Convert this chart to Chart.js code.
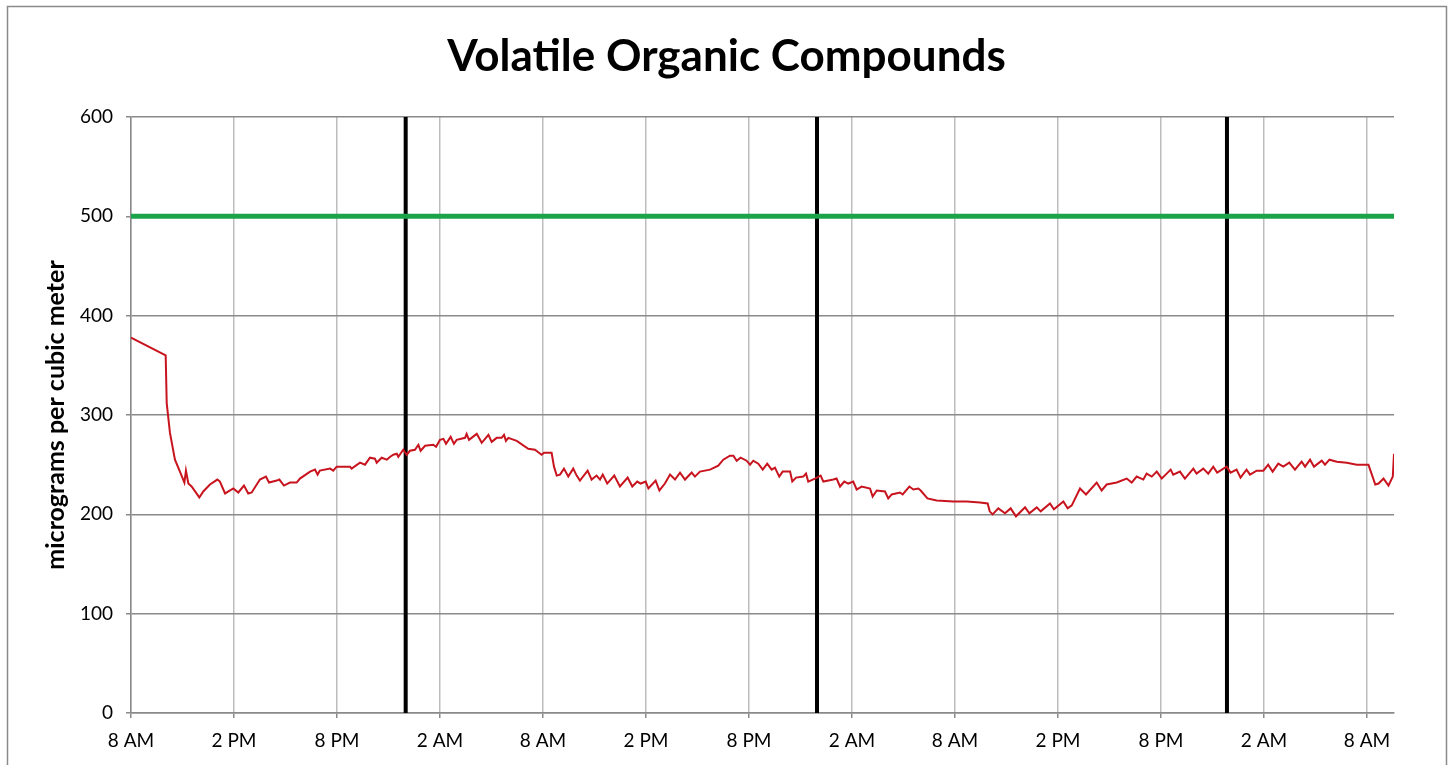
<!DOCTYPE html>
<html>
<head>
<meta charset="utf-8">
<title>Volatile Organic Compounds</title>
<script src="https://cdn.jsdelivr.net/npm/chart.js@4.4.1/dist/chart.umd.min.js"></script>
<style>
    html, body { margin: 0; padding: 0; background: #fff; }
</style>
</head>
<body>
<canvas id="vocChart" width="1453" height="765"></canvas>
<script>
// hours since 8 AM on the first day
const hours = [
    0, 2.02, 2.08, 2.27, 2.56, 2.85, 3.11, 3.2, 3.34, 3.53, 3.98, 4.21, 4.6, 5.03, 5.18, 5.48,
    5.96, 6.25, 6.58, 6.83, 7.03, 7.51, 7.86, 8.04, 8.49, 8.64, 8.91, 9.26, 9.65, 9.84, 10.43,
    10.72, 10.87, 11.0, 11.6, 11.78, 11.98, 12.76, 12.85, 13.34, 13.63, 13.92, 14.21, 14.31,
    14.6, 14.9, 15.1, 15.28, 15.48, 15.57, 15.86, 16.06, 16.25, 16.54, 16.74, 16.87, 17.13,
    17.61, 17.77, 18.0, 18.2, 18.35, 18.62, 18.81, 18.97, 19.46, 19.55, 19.69, 20.14, 20.43,
    20.82, 21.01, 21.3, 21.59, 21.73, 21.84, 21.98, 22.47, 23.14, 23.53, 23.92, 24.06, 24.5,
    24.64, 24.8, 24.99, 25.22, 25.47, 25.76, 25.96, 26.15, 26.6, 26.83, 27.12, 27.32, 27.48,
    27.74, 28.15, 28.48, 28.93, 29.2, 29.49, 29.69, 29.98, 30.14, 30.56, 30.78, 31.1, 31.4,
    31.69, 31.98, 32.27, 32.66, 32.85, 33.14, 33.73, 34.21, 34.5, 34.89, 35.09, 35.28, 35.51,
    35.86, 36.06, 36.25, 36.54, 36.8, 37.06, 37.32, 37.51, 37.76, 37.96, 38.39, 38.52, 38.74,
    39.16, 39.32, 39.45, 39.84, 40.17, 40.33, 40.91, 41.1, 41.3, 41.55, 41.78, 42.07, 42.27,
    42.56, 43.05, 43.2, 43.44, 43.92, 44.11, 44.31, 44.79, 44.95, 45.34, 45.57, 45.86, 46.0,
    46.39, 46.93, 47.9, 48.68, 49.45, 49.9, 50.02, 50.19, 50.52, 50.91, 51.24, 51.55, 52.08,
    52.33, 52.76, 52.99, 53.53, 53.76, 54.31, 54.56, 54.8, 55.28, 55.63, 56.25, 56.54, 56.83,
    57.42, 58.0, 58.29, 58.58, 58.97, 59.16, 59.46, 59.75, 60.04, 60.33, 60.56, 60.71, 61.1,
    61.39, 61.88, 62.07, 62.46, 62.75, 63.04, 63.27, 63.82, 64.05, 64.4, 64.63, 64.98, 65.18,
    65.57, 65.96, 66.24, 66.5, 66.83, 67.12, 67.47, 67.8, 68.19, 68.39, 68.68, 68.91, 69.36,
    69.55, 69.81, 70.24, 70.82, 71.4, 72.08, 72.18, 72.48, 72.67, 72.96, 73.25, 73.5, 73.57
];

// micrograms per cubic meter
const vocValues = [
    378, 360, 312, 282, 255, 243, 232, 244, 231, 228, 217, 223, 230, 235, 233, 221,
    226, 222, 229, 221, 222, 235, 238, 232, 234, 235, 229, 232, 232, 236, 243,
    245, 240, 244, 246, 244, 248, 248, 246, 252, 250, 257, 256, 252,
    257, 255, 258, 260, 261, 258, 265, 260, 264, 265, 270, 264, 269,
    270, 268, 275, 276, 271, 278, 271, 275, 277, 281, 275, 281, 272,
    280, 273, 277, 277, 280, 274, 277, 274, 266, 265, 260, 262, 262,
    248, 239, 240, 246, 238, 246, 239, 234, 244, 235, 239, 235, 240,
    231, 239, 228, 237, 228, 233, 231, 233, 226, 234, 224, 231, 240,
    235, 242, 235, 242, 238, 243, 245, 249, 255, 259, 259, 254, 257,
    254, 250, 254, 251, 245, 251, 245, 247, 238, 243, 243, 233, 237,
    238, 241, 233, 236, 239, 233, 235, 236, 228, 233, 231, 233, 225,
    228, 226, 218, 224, 223, 216, 220, 222, 220, 228, 225, 226, 224,
    216, 214, 213, 213, 212, 211, 203, 200, 206, 201, 206, 198, 207,
    201, 207, 203, 211, 205, 213, 206, 209, 226, 220, 232, 224, 230,
    232, 236, 232, 238, 235, 241, 238, 243, 236, 241, 245, 240, 243,
    236, 246, 241, 246, 241, 248, 242, 248, 242, 245, 237, 245, 240,
    244, 244, 250, 243, 251, 248, 252, 245, 253, 248, 255, 248, 254,
    250, 255, 253, 252, 250, 250, 245, 230, 231, 236, 229, 238, 261
];

const xTickLabels = ['8 AM', '2 PM', '8 PM', '2 AM', '8 AM', '2 PM', '8 PM',
    '2 AM', '8 AM', '2 PM', '8 PM', '2 AM', '8 AM'];
const midnightHours = [16.0, 39.96, 63.84];
const limitLevel = 500;
const lastHour = 73.57;

const chartTitle = 'Volatile Organic Compounds';
const yAxisTitle = 'micrograms per cubic meter';

Chart.defaults.font.family = 'Lato, "Open Sans", sans-serif';
Chart.defaults.color = '#000';

// outer frame + centered title, Excel style
const frameAndTitle = {
    id: 'frameAndTitle',
    beforeDraw(chart) {
        const ctx = chart.ctx;
        ctx.save();
        ctx.strokeStyle = '#8a8a8a';
        ctx.lineWidth = 1.5;
        ctx.strokeRect(7.5, 6.5, 1439, 820);
        ctx.restore();
    },
    afterDraw(chart) {
        const ctx = chart.ctx;
        ctx.save();
        ctx.font = 'bold 44px Lato, "Open Sans", sans-serif';
        ctx.fillStyle = '#000';
        ctx.textAlign = 'center';
        ctx.textBaseline = 'alphabetic';
        ctx.fillText(chartTitle, 726.5, 71);
        ctx.restore();
    }
};

const vocPoints = hours.map((h, i) => ({ x: h, y: vocValues[i] }));

const midnightSets = midnightHours.map(h => ({
    label: 'midnight',
    data: [{ x: h, y: 0 }, { x: h, y: 600 }],
    borderColor: '#000',
    borderWidth: 4,
    pointRadius: 0,
    order: 3
}));

const ctx = document.getElementById('vocChart').getContext('2d');
new Chart(ctx, {
    type: 'line',
    data: {
        datasets: [
            {
                label: 'VOC',
                data: vocPoints,
                borderColor: '#c8141e',
                borderWidth: 2,
                pointRadius: 0,
                tension: 0,
                order: 1
            },
            {
                label: 'limit',
                data: [{ x: 0, y: limitLevel }, { x: lastHour, y: limitLevel }],
                borderColor: '#1ba34a',
                borderWidth: 5,
                pointRadius: 0,
                order: 2
            },
            ...midnightSets
        ]
    },
    options: {
        responsive: false,
        animation: false,
        layout: {
            padding: { left: 20, right: 59, top: 117, bottom: 12 }
        },
        plugins: {
            legend: { display: false },
            tooltip: { enabled: false },
            title: { display: false }
        },
        scales: {
            x: {
                type: 'linear',
                min: 0,
                max: lastHour,
                afterFit: scale => { scale.height = 40; },
                grid: {
                    color: '#bdbdbd',
                    lineWidth: 1.5,
                    tickColor: '#8a8a8a',
                    tickLength: 5
                },
                border: { color: '#8a8a8a', width: 1.5 },
                ticks: {
                    stepSize: 6,
                    includeBounds: false,
                    autoSkip: false,
                    maxRotation: 0,
                    padding: 11,
                    font: { size: 19 },
                    callback: value => xTickLabels[Math.round(value / 6)]
                }
            },
            y: {
                min: 0,
                max: 600,
                afterFit: scale => { scale.width = 111; },
                grid: {
                    color: '#8a8a8a',
                    lineWidth: 1.5,
                    tickColor: '#8a8a8a',
                    tickLength: 5
                },
                border: { color: '#8a8a8a', width: 1.5 },
                ticks: {
                    stepSize: 100,
                    padding: 13,
                    font: { size: 19 }
                },
                title: {
                    display: true,
                    text: yAxisTitle,
                    font: { size: 25, weight: 'bold' },
                    padding: { top: 21, bottom: 0 }
                }
            }
        }
    },
    plugins: [frameAndTitle]
});
</script>
</body>
</html>
